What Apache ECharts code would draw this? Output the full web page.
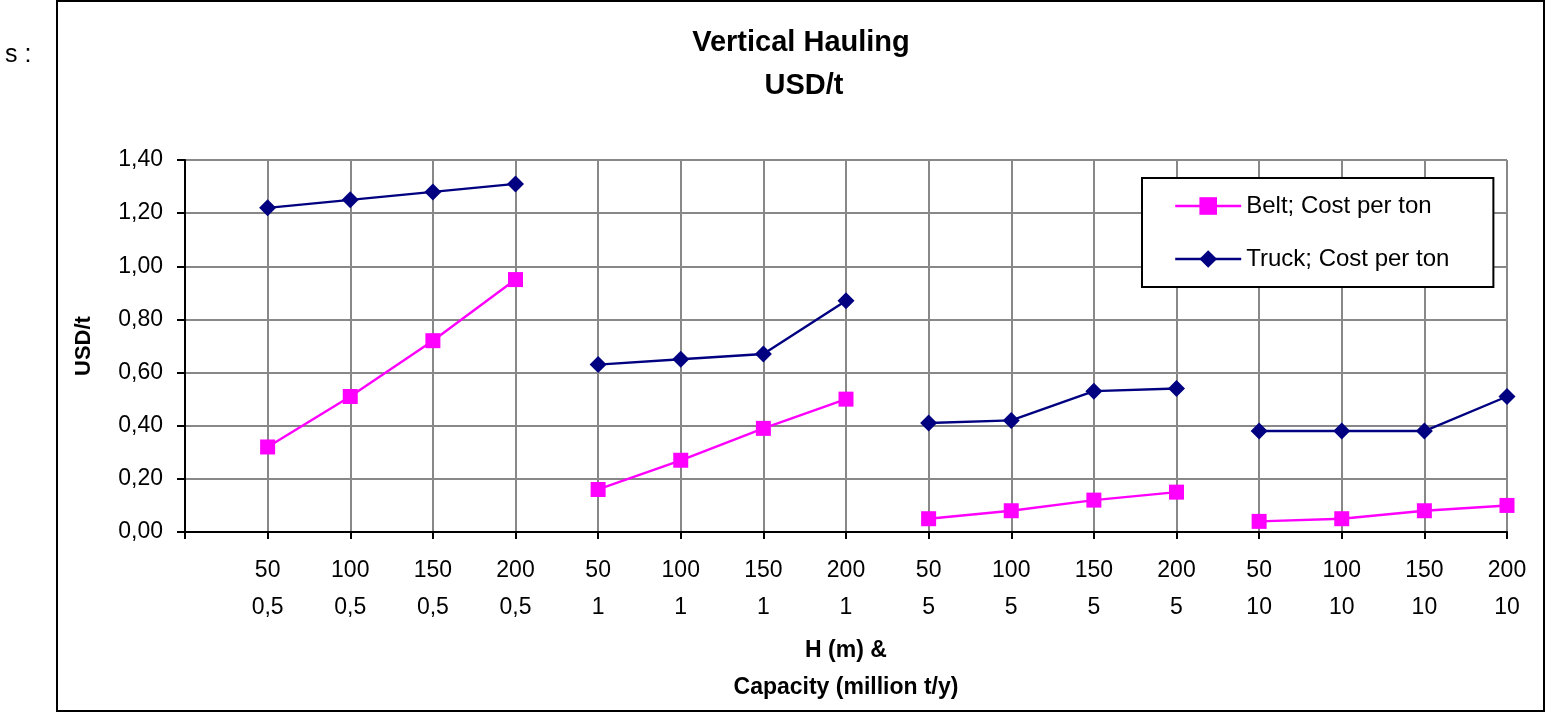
<!DOCTYPE html>
<html>
<head>
<meta charset="utf-8">
<script src="https://cdn.jsdelivr.net/npm/echarts@6/dist/echarts.min.js"></script>
<style>
html,body{margin:0;padding:0;background:#fff;}
#chart{width:1547px;height:714px;}
</style>
</head>
<body>
<div id="chart"></div>
<script>
var heights = ['50', '100', '150', '200'];
var capacities = ['0,5', '1', '5', '10'];
var beltValues = [0.32, 0.51, 0.72, 0.95, 0.16, 0.27, 0.39, 0.50, 0.05, 0.08, 0.12, 0.15, 0.04, 0.05, 0.08, 0.10];
var truckValues = [1.22, 1.25, 1.28, 1.31, 0.63, 0.65, 0.67, 0.87, 0.41, 0.42, 0.53, 0.54, 0.38, 0.38, 0.38, 0.51];
var beltName = 'Belt; Cost per ton';
var truckName = 'Truck; Cost per ton';

var FONT = '"Liberation Sans", Arial, sans-serif';

var categories = [''];
capacities.forEach(function (c) {
  heights.forEach(function (h) { categories.push(h + '\n' + c); });
});

function groupSeries(name, values, color, symbol, size) {
  var out = [];
  for (var g = 0; g < capacities.length; g++) {
    var data = [];
    for (var i = 0; i < categories.length; i++) data.push(null);
    for (var k = 0; k < heights.length; k++) {
      data[1 + g * heights.length + k] = values[g * heights.length + k];
    }
    out.push({
      name: name,
      type: 'line',
      data: data,
      symbol: symbol,
      symbolSize: size,
      connectNulls: false,
      lineStyle: { color: color, width: 2.4 },
      itemStyle: { color: color },
      emphasis: { disabled: true },
      animation: false
    });
  }
  return out;
}

var series = [].concat(
  groupSeries(beltName, beltValues, '#FF00FF', 'rect', 15),
  groupSeries(truckName, truckValues, '#000080', 'diamond', 17)
);

var chart = echarts.init(document.getElementById('chart'));
chart.setOption({
  animation: false,
  backgroundColor: '#ffffff',
  textStyle: { fontFamily: FONT },
  grid: { left: 185, right: 40, top: 160, bottom: 182, containLabel: false },
  graphic: [
    { type: 'rect', z: -10, shape: { x: 57, y: 1, width: 1487, height: 710 },
      style: { fill: '#fff', stroke: '#000', lineWidth: 2 } },
    { type: 'text', x: 801, y: 43, style: { text: 'Vertical Hauling', fontFamily: FONT, fontSize: 29, fontWeight: 'bold', fill: '#000', textAlign: 'center', textVerticalAlign: 'middle' } },
    { type: 'text', x: 804, y: 86, style: { text: 'USD/t', fontFamily: FONT, fontSize: 29, fontWeight: 'bold', fill: '#000', textAlign: 'center', textVerticalAlign: 'middle' } },
    { type: 'text', x: 5, y: 55, style: { text: 's :', fontFamily: FONT, fontSize: 25, fill: '#000', textAlign: 'left', textVerticalAlign: 'middle' } }
  ],
  legend: {
    orient: 'vertical',
    left: 1142,
    top: 178,
    padding: [16, 44, 16, 32],
    itemGap: 29,
    itemWidth: 66,
    itemHeight: 22,
    backgroundColor: '#fff',
    borderColor: '#000',
    borderWidth: 2,
    borderRadius: 0,
    lineStyle: { width: 2.4 },
    textStyle: { fontFamily: FONT, fontSize: 24, color: '#000' },
    data: [beltName, truckName]
  },
  xAxis: {
    type: 'category',
    data: categories,
    boundaryGap: false,
    name: 'H (m) &\nCapacity (million t/y)',
    nameLocation: 'middle',
    nameGap: 100,
    nameTextStyle: { fontFamily: FONT, fontSize: 23, fontWeight: 'bold', color: '#000', lineHeight: 37 },
    axisLine: { show: true, lineStyle: { color: '#000', width: 2 } },
    axisTick: { show: true, interval: 0, length: 7, lineStyle: { color: '#000', width: 2 } },
    axisLabel: { interval: 0, margin: 20, fontFamily: FONT, fontSize: 23, color: '#000', lineHeight: 37 },
    splitLine: { show: true, interval: 0, lineStyle: { color: '#888', width: 2 } }
  },
  yAxis: {
    type: 'value',
    min: 0,
    max: 1.4,
    interval: 0.2,
    name: 'USD/t',
    nameLocation: 'middle',
    nameGap: 90,
    nameTextStyle: { fontFamily: FONT, fontSize: 22, fontWeight: 'bold', color: '#000' },
    axisLine: { show: true, lineStyle: { color: '#000', width: 2 } },
    axisTick: { show: true, length: 8, lineStyle: { color: '#000', width: 2 } },
    axisLabel: { margin: 22, fontFamily: FONT, fontSize: 23, color: '#000',
      formatter: function (v) { return v.toFixed(2).replace('.', ','); } },
    splitLine: { show: true, lineStyle: { color: '#888', width: 2 } }
  },
  series: series
});
</script>
</body>
</html>
